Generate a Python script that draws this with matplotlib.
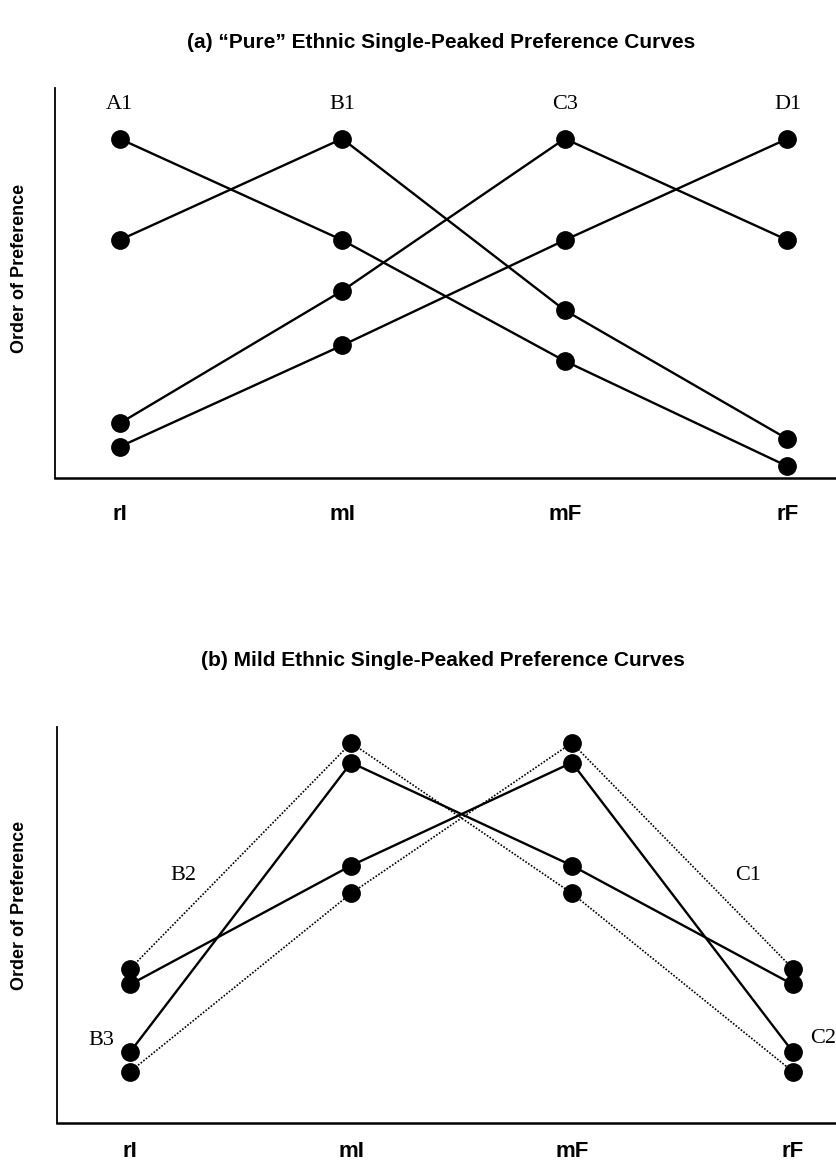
import matplotlib.pyplot as plt

plt.rcParams.update({
    'font.family': 'Liberation Sans',
    'font.size': 14,
})

# categories on the horizontal axis
categories = ['rI', 'mI', 'mF', 'rF']

# (a) "pure" ethnic curves: order of preference (0 = bottom, 10 = top)
pure_labels = ['A1', 'B1', 'C3', 'D1']
pure_A1 = [8.7, 6.1, 3.0, 0.3]
pure_B1 = [6.1, 8.7, 4.3, 1.0]
pure_C3 = [1.4, 4.8, 8.7, 6.1]
pure_D1 = [0.8, 3.4, 6.1, 8.7]

# (b) mild ethnic curves
mild_labels = ['B2', 'B3', 'C1', 'C2']
mild_B2 = [3.9, 9.6, 5.8, 1.3]   # dotted
mild_B3 = [1.8, 9.1, 6.5, 3.5]   # solid
mild_C1 = [1.3, 5.8, 9.6, 3.9]   # dotted
mild_C2 = [3.5, 6.5, 9.1, 1.8]   # solid

W, H = 836, 1168
fig = plt.figure(figsize=(W / 100, H / 100), dpi=100)

def px_axes(left, top, bottom):
    return fig.add_axes([left / W, 1 - bottom / H, (W - left) / W, (bottom - top) / H])

ax1 = px_axes(55, 88, 478)
ax2 = px_axes(57, 727, 1123)

solid = dict(color='black', linewidth=1.7, marker='o', markersize=12.5,
             markerfacecolor='black', markeredgecolor='black', zorder=3)
dotted = dict(color='black', linewidth=1.2, linestyle=(0, (1, 1)), marker='o',
              markersize=12.5, markerfacecolor='black', markeredgecolor='black', zorder=3)

x = list(range(len(categories)))

# ========== (a) ==========
pure = [pure_A1, pure_B1, pure_C3, pure_D1]
for lab, ys in zip(pure_labels, pure):
    ax1.plot(x, ys, **solid)
    peak = ys.index(max(ys))
    ax1.annotate(lab, (x[peak], ys[peak]), xytext=(0, 34), textcoords='offset pixels',
                 ha='center', va='center', fontfamily='Liberation Serif', fontsize=16)

ax1.set_xlim(-0.29, 3.218)
ax1.set_ylim(0, 10)

# ========== (b) ==========
ax2.plot(x, mild_B2, **dotted)
ax2.plot(x, mild_C1, **dotted)
ax2.plot(x, mild_B3, **solid)
ax2.plot(x, mild_C2, **solid)

serif = dict(fontfamily='Liberation Serif', fontsize=16, ha='center', va='center')
ax2.text(0.24, 6.25, 'B2', **serif)
ax2.text(2.80, 6.25, 'C1', **serif)
ax2.annotate('B3', (x[0], mild_B3[0]), xytext=(-29, 11), textcoords='offset pixels', **serif)
ax2.annotate('C2', (x[3], mild_C2[3]), xytext=(30, 13), textcoords='offset pixels', **serif)

ax2.set_xlim(-0.332, 3.196)
ax2.set_ylim(0, 10)

# ========== shared styling ==========
for ax, pad in [(ax1, 19), (ax2, 13)]:
    for side in ['top', 'right']:
        ax.spines[side].set_visible(False)
    ax.spines['left'].set_linewidth(1.3)
    ax.spines['bottom'].set_linewidth(1.8)
    ax.set_yticks([])
    ax.set_xticks(x)
    ax.set_xticklabels(categories, fontweight='bold', fontsize=16)
    ax.tick_params(axis='x', length=0, pad=pad)
    ax.patch.set_visible(False)

fig.text(441 / W, 1 - 42 / H, '(a) \u201cPure\u201d Ethnic Single-Peaked Preference Curves',
         ha='center', va='center', fontweight='bold', fontsize=15)
fig.text(443 / W, 1 - 660 / H, '(b) Mild Ethnic Single-Peaked Preference Curves',
         ha='center', va='center', fontweight='bold', fontsize=15)

fig.text(20 / W, 1 - 268 / H, 'Order of Preference', rotation=90,
         ha='center', va='center', fontweight='bold', fontsize=13)
fig.text(20 / W, 1 - 905 / H, 'Order of Preference', rotation=90,
         ha='center', va='center', fontweight='bold', fontsize=13)

plt.savefig('out.png', dpi=100, facecolor='white')
